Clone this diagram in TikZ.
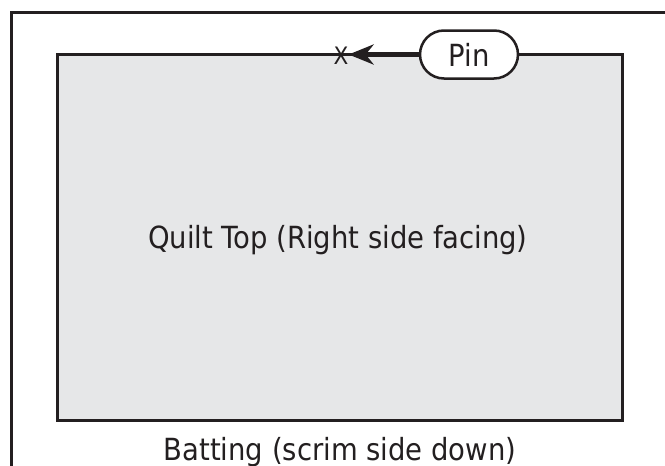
\documentclass[tikz,border=0pt]{standalone}
\usepackage{fontspec}
\setmainfont{DejaVu Sans Condensed}
\usetikzlibrary{arrows.meta}
\definecolor{quiltink}{HTML}{231F20}
\definecolor{quiltgray}{HTML}{E6E7E8}
\tikzset{
    lab/.style={
        font=\fontsize{30.5}{36}\selectfont, text=quiltink
    },
    pinbox/.style={
        draw=quiltink, line width=2.5pt, fill=white, rounded corners=24pt,
        minimum width=98pt, minimum height=48pt, inner sep=0pt
    }
}

\begin{document}
\begin{tikzpicture}[x=1pt,y=-1pt]

\useasboundingbox (0,0) rectangle (665,466);

% batting
\draw[line width=3pt, color=quiltink] (11.3,470) -- (11.3,12) -- (670,12);

% quilt top
\draw[line width=3pt, color=quiltink, fill=quiltgray] (57.5,54.5) rectangle (622,420);

\node[lab, anchor=base] (top) at (338,248) {Quilt Top (Right side facing)};
\node[lab, anchor=base] (batting) at (340,460) {Batting (scrim side down)};

% pin
\node[pinbox, lab] (pin) at (469,54.5) {Pin};
\node[font=\fontsize{24}{24}\selectfont, text=quiltink, inner sep=0pt] (mark) at (341,56) {X};
\draw[-{Stealth[length=25pt, width=20pt, inset=8pt]}, line width=4.5pt, color=quiltink] (pin.west) -- (mark.east |- pin.west);

\end{tikzpicture}
\end{document}
